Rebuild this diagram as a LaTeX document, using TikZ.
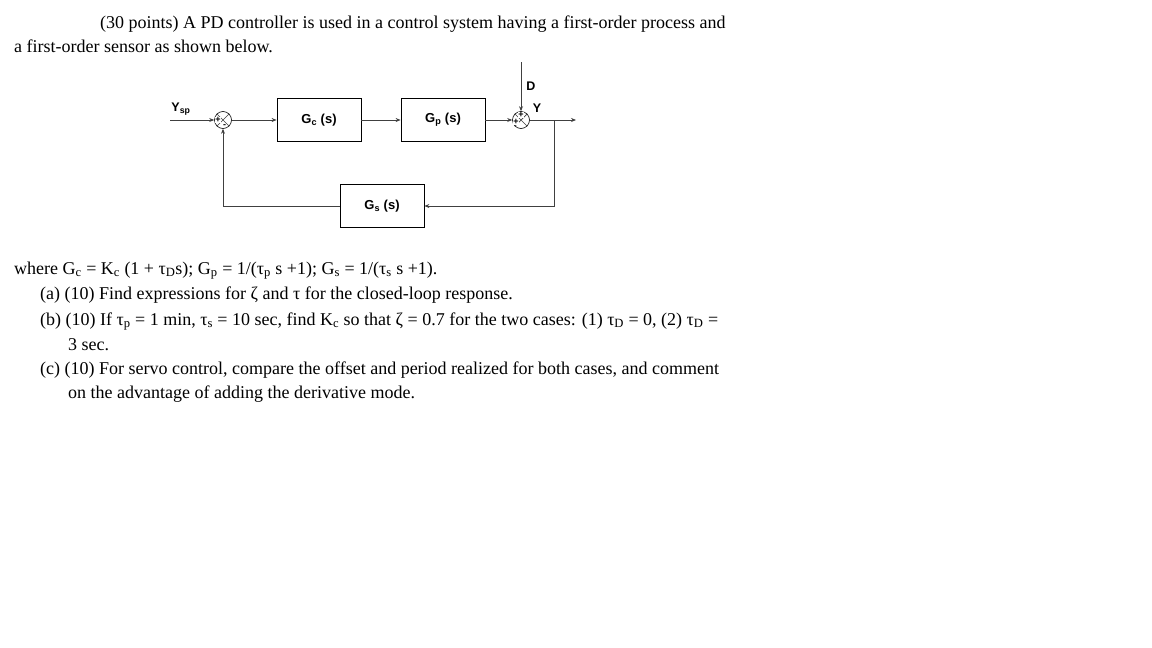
\documentclass[tikz,border=0pt]{standalone}
\usepackage{fontspec}
\setmainfont{Liberation Serif}
\setsansfont{Liberation Sans}
\usetikzlibrary{arrows.meta}
\begin{document}
\begin{tikzpicture}[x=1pt,y=-1pt,
  blk/.style={draw,line width=0.8pt,minimum width=84pt,minimum height=43pt,font=\sffamily\bfseries\fontsize{13}{15}\selectfont},
  sumj/.style={draw,circle,minimum size=17pt,inner sep=0pt,line width=0.6pt},
  wire/.style={line width=0.7pt,draw=black!75},
  arr/.style={wire,-{Stealth[length=5pt,width=4pt]}},
  txt/.style={anchor=base west,inner sep=0pt,font=\fontsize{18}{21}\selectfont},
  lab/.style={inner sep=0pt,font=\sffamily\bfseries\fontsize{12.5}{14}\selectfont},
  sgn/.style={inner sep=0pt,font=\sffamily\bfseries\fontsize{9}{10}\selectfont}]
\useasboundingbox (0,0) rectangle (1152,648);
\node[txt] (t1) at (100,28) {(30 points) A PD controller is used in a control system having a first-order process and};
\node[txt] (t2) at (14,52) {a first-order sensor as shown below.};
% blocks
\node[sumj] (s1) at (223,120) {};
\draw[wire] (s1.north west)--(s1.south east) (s1.north east)--(s1.south west);
\node[blk] (gc) at (319,120) {G\textsubscript{c} (s)};
\node[blk] (gp) at (443,120) {G\textsubscript{p} (s)};
\node[sumj] (s2) at (521,120) {};
\draw[wire] (s2.north west)--(s2.south east) (s2.north east)--(s2.south west);
\node[blk] (gs) at (382,206) {G\textsubscript{s} (s)};
\coordinate (in) at (170,120);
\coordinate (dtop) at (521,62);
\coordinate (out) at (576,120);
\coordinate (br) at (554,120);
\draw[arr] (in)--(s1);
\draw[arr] (s1)--(gc);
\draw[arr] (gc)--(gp);
\draw[arr] (gp)--(s2);
\draw[arr] (dtop)--(s2);
\draw[arr] (s2)--(out);
\draw[arr] (br)|-(gs);
\draw[arr] (gs)-|(s1);
\node[sgn,fill=white] at (218,120) {+};
\node[sgn] at (224.5,126) {-};
\node[sgn,fill=white] at (516,122) {+};
\node[sgn,fill=white] at (521,115) {+};
\node[lab] (ysp) at (181,109) {Y\textsubscript{sp}};
\node[lab] (dl) at (531,86) {D};
\node[lab] (yl) at (537,108) {Y};
% text
\node[txt] (w) at (14,274) {where G\textsubscript{c} = K\textsubscript{c} (1 + τ\textsubscript{D}s); G\textsubscript{p} = 1/(τ\textsubscript{p} s +1); G\textsubscript{s} = 1/(τ\textsubscript{s} s +1).};
\node[txt] (a) at (40,299) {(a) (10) Find expressions for ζ and τ for the closed-loop response.};
\node[txt] (b) at (40,325) {(b) (10) If τ\textsubscript{p} = 1 min, τ\textsubscript{s} = 10 sec, find K\textsubscript{c} so that ζ = 0.7 for the two cases: (1) τ\textsubscript{D} = 0, (2) τ\textsubscript{D} =};
\node[txt] (b2) at (68,350) {3 sec.};
\node[txt] (c) at (40,374) {(c) (10) For servo control, compare the offset and period realized for both cases, and comment};
\node[txt] (c2) at (68,398) {on the advantage of adding the derivative mode.};
\end{tikzpicture}
\end{document}
